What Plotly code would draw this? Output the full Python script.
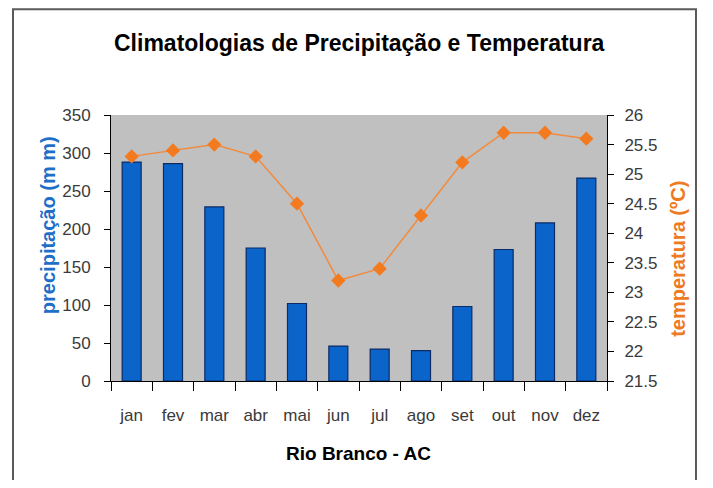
import plotly.graph_objects as go

months = ["jan", "fev", "mar", "abr", "mai", "jun", "jul", "ago", "set", "out", "nov", "dez"]
precip = [288, 286, 229, 175, 102, 46, 42, 40, 98, 173, 208, 267]
temp = [25.3, 25.4, 25.5, 25.3, 24.5, 23.2, 23.4, 24.3, 25.2, 25.7, 25.7, 25.6]

title_text = "Climatologias de Precipitação e Temperatura"
xtitle = "Rio Branco - AC"
ytitle_left = "precipitação (m m)"
ytitle_right = "temperatura (ºC)"

FONT = "Liberation Sans, Arial, sans-serif"
TICKC = "#3A3A3A"

fig = go.Figure()
fig.add_trace(go.Bar(
    x=months, y=precip, width=0.46,
    marker=dict(color="#0A64CA", line=dict(color="#0D2B66", width=1.2)),
    yaxis="y", showlegend=False,
))
fig.add_trace(go.Scatter(
    x=months, y=temp, mode="lines+markers",
    line=dict(color="#F28A3C", width=1.5),
    marker=dict(symbol="diamond", size=11, color="#F47A1F"),
    yaxis="y2", showlegend=False,
))

fig.update_layout(
    width=705, height=472,
    margin=dict(l=103, r=106, t=107, b=99, autoexpand=False),
    paper_bgcolor="white", plot_bgcolor="#C0C0C0",
    font=dict(family=FONT, size=17, color=TICKC),
    xaxis=dict(
        type="category", range=[-0.5, len(months) - 0.5],
        showline=True, linecolor="black", linewidth=1,
        ticks="outside", ticklen=9, tickcolor="black", tickson="boundaries",
        showgrid=False, tickfont=dict(family=FONT, size=17, color=TICKC),
        tickangle=0, automargin=False, ticklabelstandoff=19,
    ),
    yaxis=dict(
        range=[0, 350], dtick=50, showline=True, linecolor="black", linewidth=1,
        ticks="outside", ticklen=6, tickcolor="black", showgrid=False,
        zeroline=False, tickfont=dict(family=FONT, size=17, color=TICKC),
        automargin=False, ticklabelstandoff=10,
    ),
    yaxis2=dict(
        range=[21.5, 26], dtick=0.5, overlaying="y", side="right",
        showline=True, linecolor="black", linewidth=1,
        ticks="outside", ticklen=6, tickcolor="black", showgrid=False,
        zeroline=False, tickfont=dict(family=FONT, size=17, color=TICKC),
        automargin=False, ticklabelstandoff=7,
    ),
    shapes=[dict(
        type="rect", xref="paper", yref="paper",
        x0=-0.1976, x1=1.1794, y0=-0.43, y1=1.398,
        line=dict(color="#5A5A5A", width=2), fillcolor="rgba(0,0,0,0)", layer="above",
    )],
    annotations=[
        dict(text=title_text, xref="paper", yref="paper", x=0.502, y=1.271,
             showarrow=False, xanchor="center", yanchor="middle",
             font=dict(family=FONT, size=23, color="black", weight="bold")),
        dict(text=xtitle, xref="paper", yref="paper", x=0.499, y=-0.271,
             showarrow=False, xanchor="center", yanchor="middle",
             font=dict(family=FONT, size=19, color="black", weight="bold")),
        dict(text=ytitle_left, xref="paper", yref="paper", x=-0.127, y=0.586,
             showarrow=False, xanchor="center", yanchor="middle", textangle=-90,
             font=dict(family=FONT, size=20, color="#1E6FC8", weight="bold")),
        dict(text=ytitle_right, xref="paper", yref="paper", x=1.143, y=0.459,
             showarrow=False, xanchor="center", yanchor="middle", textangle=-90,
             font=dict(family=FONT, size=20, color="#EE7A22", weight="bold")),
    ],
)

fig.write_html("out.html")
